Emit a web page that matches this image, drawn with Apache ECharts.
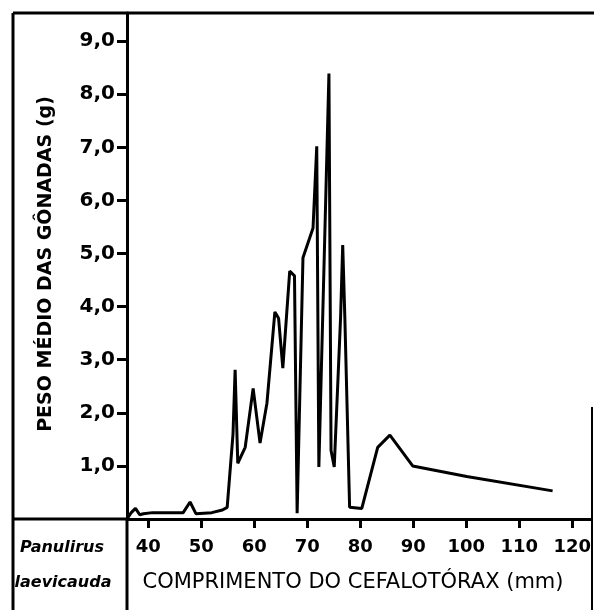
<!DOCTYPE html>
<html><head><meta charset="utf-8">
<script src="https://cdn.jsdelivr.net/npm/echarts@6/dist/echarts.min.js"></script>
<style>html,body{margin:0;padding:0;background:#fff}#c{width:594px;height:610px}</style>
</head><body><div id="c"></div>
<script>
const lengthMm = [36.0, 36.8, 37.6, 38.4, 39.1, 40.8, 46.6, 47.9, 49.0, 52.0, 54.0, 54.9, 56.0, 56.4, 56.9, 58.3, 59.8, 61.1, 62.4, 63.9, 64.6, 65.4, 66.7, 67.6, 68.1, 69.2, 71.1, 71.8, 72.2, 74.1, 74.5, 75.1, 76.3, 76.7, 77.1, 78.0, 80.3, 83.3, 85.6, 89.9, 100.1, 116.3];
const gonadWeight = [0.0, 0.12, 0.2, 0.08, 0.1, 0.12, 0.12, 0.32, 0.1, 0.12, 0.17, 0.22, 1.6, 2.81, 1.05, 1.35, 2.46, 1.43, 2.18, 3.9, 3.78, 2.84, 4.67, 4.58, 0.11, 4.92, 5.48, 7.02, 0.98, 8.39, 1.29, 0.98, 3.8, 5.16, 3.8, 0.22, 0.2, 1.35, 1.58, 1.0, 0.8, 0.53];
const xTickValues = [40, 50, 60, 70, 80, 90, 100, 110, 120];
const xTickLabels = ['40', '50', '60', '70', '80', '90', '100', '110', '120'];
const yTickValues = [1, 2, 3, 4, 5, 6, 7, 8, 9];
const yTickLabels = ['1,0', '2,0', '3,0', '4,0', '5,0', '6,0', '7,0', '8,0', '9,0'];
const speciesName = ['Panulirus', 'laevicauda'];
const xAxisTitle = 'COMPRIMENTO DO CEFALOTÓRAX (mm)';
const yAxisTitle = 'PESO MÉDIO DAS GÔNADAS (g)';

function lab(vals, labs) {
  return v => { const i = vals.findIndex(t => Math.abs(t - v) < 1e-9); return i >= 0 ? labs[i] : ''; };
}
const FONT = 'DejaVu Sans';
const chart = echarts.init(document.getElementById('c'), null, {renderer: 'canvas'});
const blk = {stroke: '#000', lineWidth: 3};
chart.setOption({
  animation: false,
  backgroundColor: '#fff',
  grid: {left: 127, right: 2, top: 13, bottom: 91},
  xAxis: {
    type: 'value', min: 36, max: 123.58,
    axisLine: {show: true, onZero: false, lineStyle: {color: '#000', width: 3}},
    axisTick: {show: true, customValues: xTickValues, length: 9, lineStyle: {color: '#000', width: 3}},
    axisLabel: {customValues: xTickValues, formatter: lab(xTickValues, xTickLabels), color: '#000',
      fontSize: 18, fontWeight: 'bold', fontFamily: FONT, margin: 19},
    splitLine: {show: false}
  },
  yAxis: {
    type: 'value', min: 0, max: 9.53,
    axisLine: {show: true, onZero: false, lineStyle: {color: '#000', width: 3}},
    axisTick: {show: true, customValues: yTickValues, length: 10, lineStyle: {color: '#000', width: 3}},
    axisLabel: {customValues: yTickValues, formatter: lab(yTickValues, yTickLabels), color: '#000',
      fontSize: 20, fontWeight: 'bold', fontFamily: FONT, margin: 12},
    splitLine: {show: false}
  },
  series: [{
    type: 'line',
    data: lengthMm.map((x, i) => [x, gonadWeight[i]]),
    showSymbol: false,
    lineStyle: {color: '#000', width: 3},
    clip: true
  }],
  graphic: [
    {type: 'line', shape: {x1: 13, y1: 13, x2: 594, y2: 13}, style: blk},
    {type: 'line', shape: {x1: 13, y1: 13, x2: 13, y2: 610}, style: blk},
    {type: 'line', shape: {x1: 127, y1: 519, x2: 127, y2: 610}, style: blk},
    {type: 'line', shape: {x1: 13, y1: 519, x2: 127, y2: 519}, style: blk},
    {type: 'line', shape: {x1: 592, y1: 407, x2: 592, y2: 610}, style: {stroke: '#000', lineWidth: 2}},
    {type: 'text', x: 62, y: 548, style: {text: speciesName[0], fill: '#000', font: 'italic bold 16px "DejaVu Sans"', textAlign: 'center', textVerticalAlign: 'middle'}},
    {type: 'text', x: 63, y: 583, style: {text: speciesName[1], fill: '#000', font: 'italic bold 16px "DejaVu Sans"', textAlign: 'center', textVerticalAlign: 'middle'}},
    {type: 'text', x: 353, y: 583, style: {text: xAxisTitle, fill: '#000', font: '21px "DejaVu Sans"', textAlign: 'center', textVerticalAlign: 'middle'}},
    {type: 'text', x: 46, y: 264, rotation: Math.PI / 2, style: {text: yAxisTitle, fill: '#000', font: 'bold 19px "DejaVu Sans"', textAlign: 'center', textVerticalAlign: 'middle'}}
  ]
});
</script></body></html>
